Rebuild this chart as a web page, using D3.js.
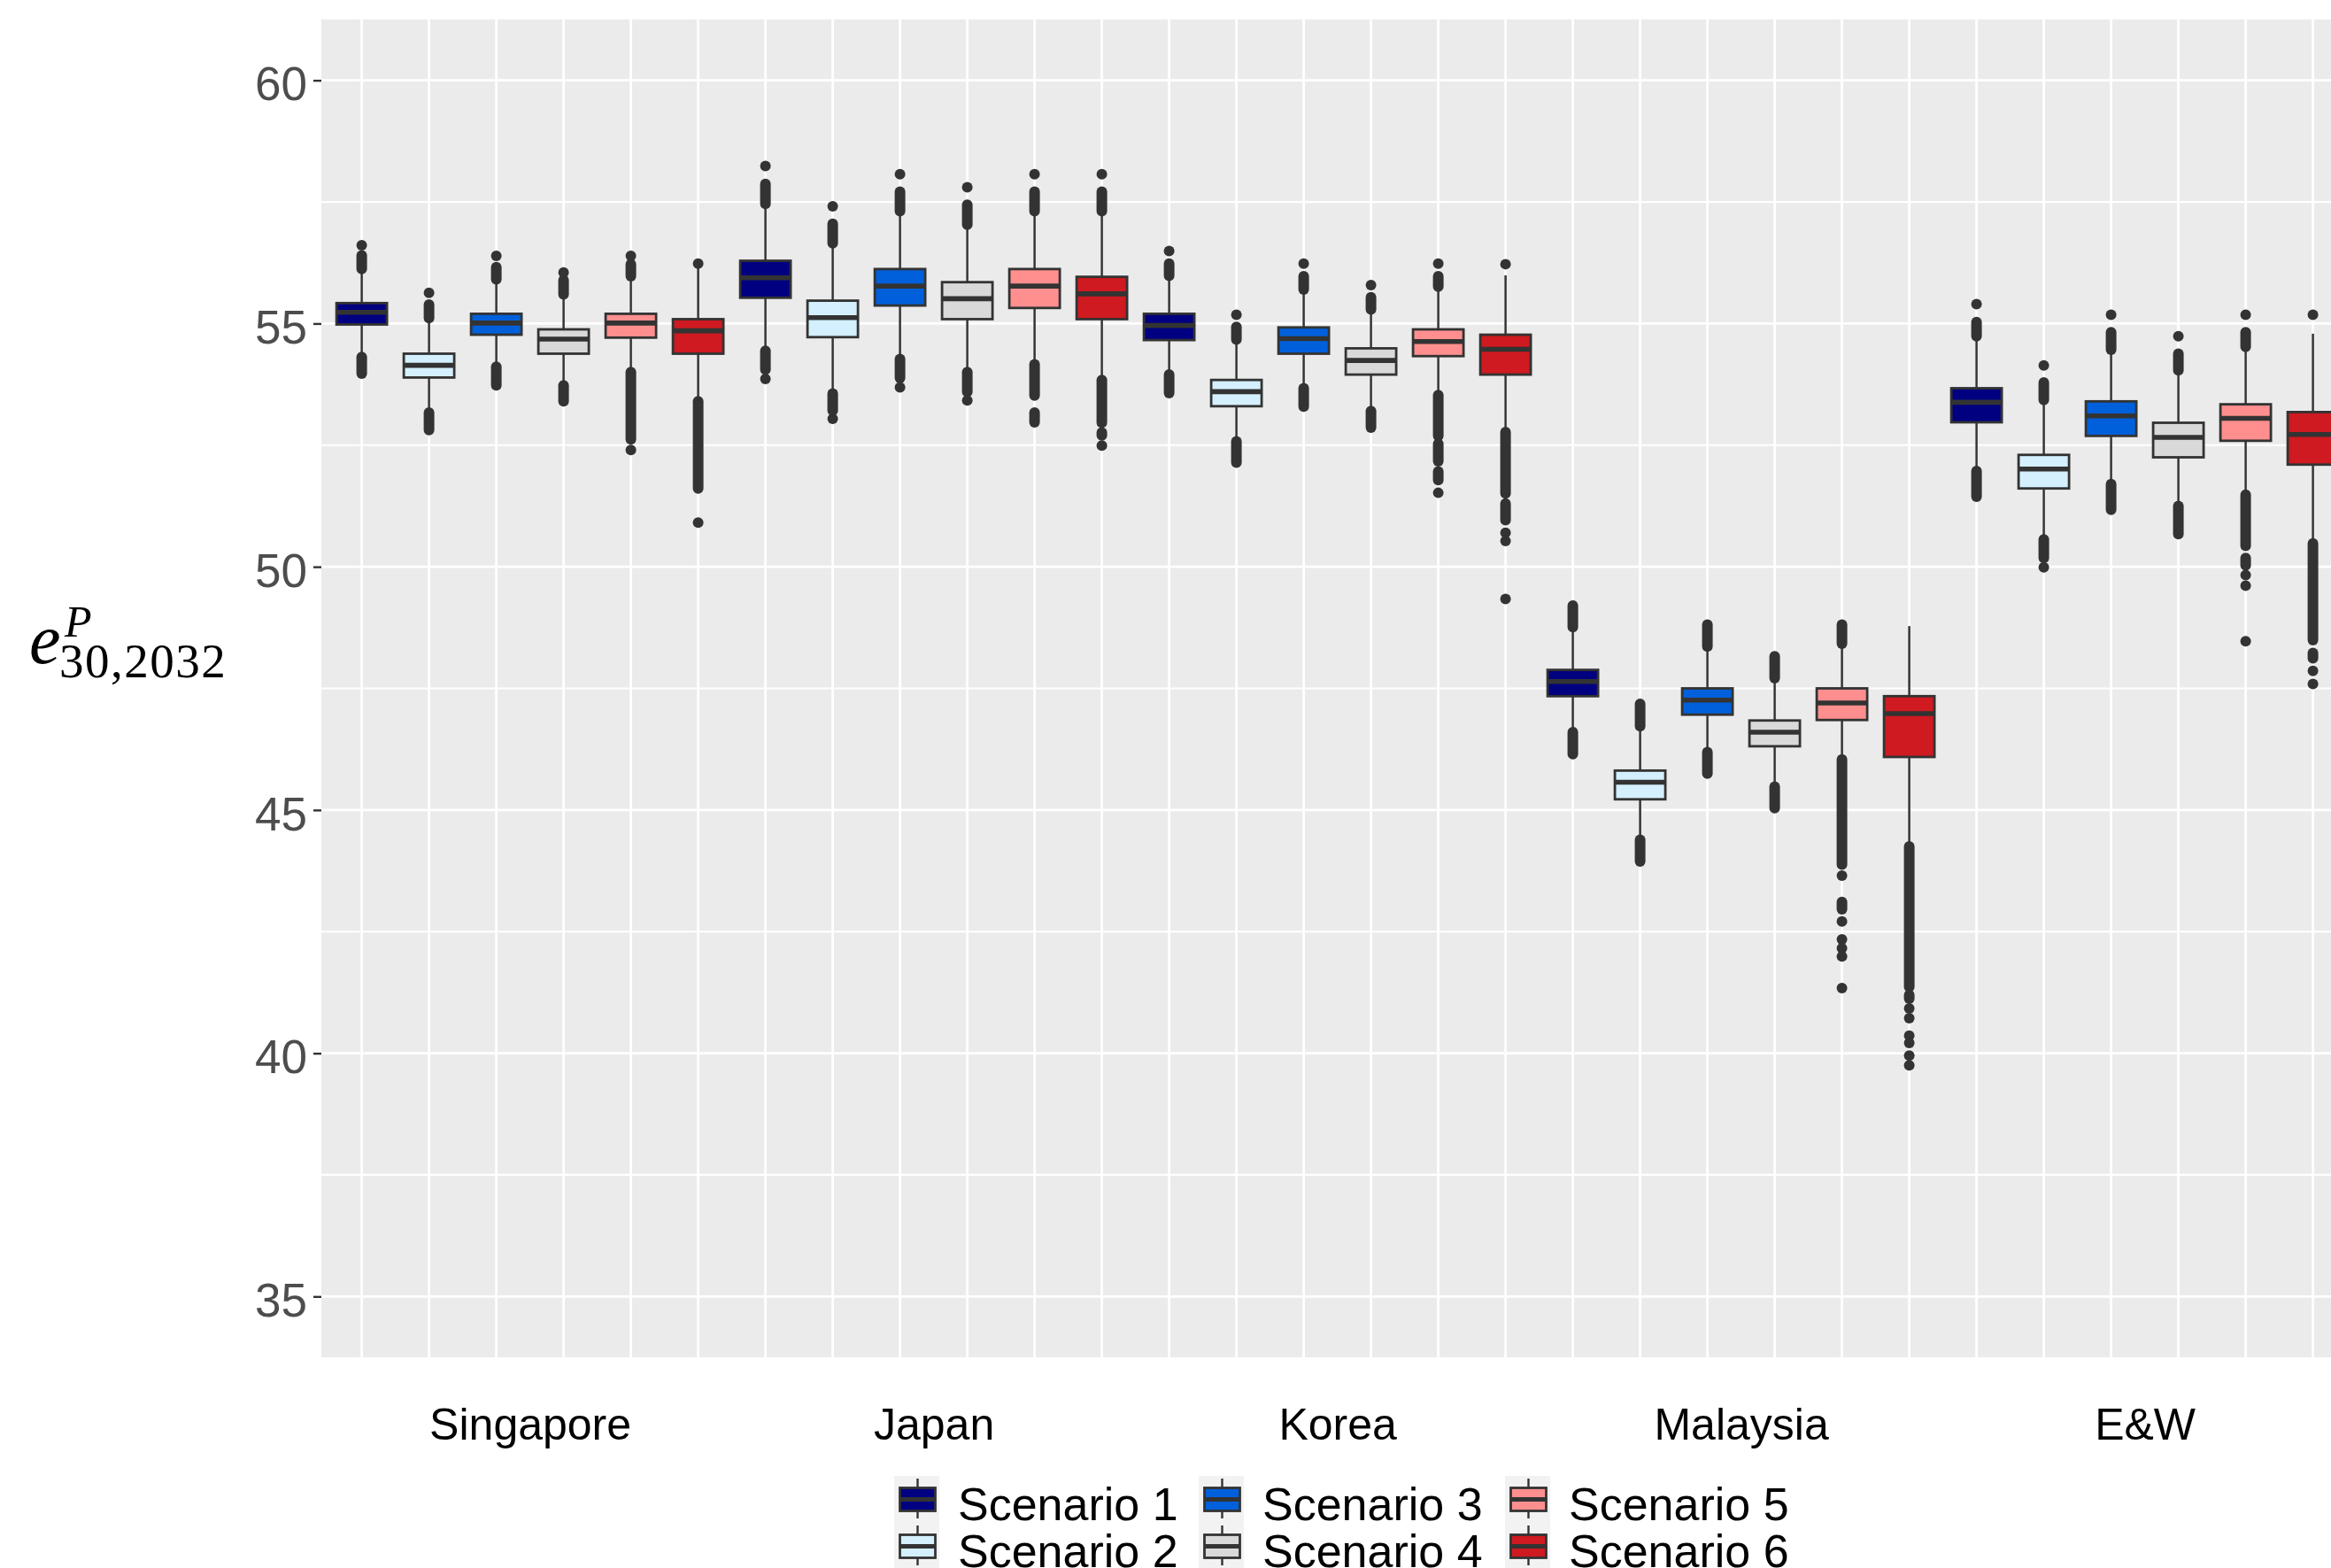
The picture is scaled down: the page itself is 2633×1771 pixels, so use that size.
<!DOCTYPE html>
<html>
<head>
<meta charset="utf-8">
<script src="https://cdn.jsdelivr.net/npm/d3@7"></script>
<style>
html, body { margin: 0; padding: 0; background: #ffffff; overflow: hidden; }
svg { display: block; }
</style>
</head>
<body>
<svg id="chart" width="2633" height="1771"></svg>
<script>
// ---------------- data ----------------
const countries = ["Singapore", "Japan", "Korea", "Malaysia", "E&W"];
const scenarios = ["Scenario 1", "Scenario 2", "Scenario 3", "Scenario 4", "Scenario 5", "Scenario 6"];
const scenarioColors = ["#000080", "#D4F0FF", "#0060DB", "#D9D9D9", "#FF8F8F", "#CE1A20"];
const yTicks = [35, 40, 45, 50, 55, 60];
const yMinorTicks = [37.5, 42.5, 47.5, 52.5, 57.5];

// one entry per box: country-major, scenario-minor
const whiskerLow = [54.35, 53.20, 54.16, 53.76, 54.05, 53.44,
                    54.49, 53.61, 54.32, 54.05, 54.20, 53.88,
                    53.99, 52.62, 53.72, 53.25, 53.58, 52.82,
                    46.65, 44.44, 46.24, 45.53, 46.09, 44.30,
                    52.00, 50.59, 51.73, 51.29, 51.52, 50.52];
const q1 =         [54.98, 53.89, 54.77, 54.38, 54.71, 54.38,
                    55.53, 54.72, 55.37, 55.09, 55.32, 55.09,
                    54.66, 53.30, 54.38, 53.95, 54.33, 53.95,
                    47.34, 45.22, 46.96, 46.31, 46.85, 46.09,
                    52.97, 51.61, 52.69, 52.25, 52.59, 52.10];
const median =     [55.23, 54.14, 55.01, 54.68, 55.01, 54.85,
                    55.94, 55.12, 55.77, 55.51, 55.77, 55.61,
                    54.96, 53.60, 54.69, 54.24, 54.63, 54.47,
                    47.64, 45.57, 47.26, 46.60, 47.20, 46.98,
                    53.38, 52.01, 53.10, 52.66, 53.05, 52.72];
const q3 =         [55.42, 54.38, 55.20, 54.88, 55.20, 55.09,
                    56.29, 55.47, 56.12, 55.85, 56.12, 55.96,
                    55.20, 53.84, 54.92, 54.49, 54.88, 54.77,
                    47.88, 45.81, 47.50, 46.84, 47.50, 47.34,
                    53.67, 52.30, 53.40, 52.96, 53.34, 53.18];
const whiskerHigh = [56.07, 55.05, 55.84, 55.54, 55.90, 56.15,
                     57.42, 56.60, 57.26, 56.99, 57.26, 57.26,
                     55.93, 54.63, 55.66, 55.25, 55.72, 55.99,
                     48.71, 46.69, 48.32, 47.67, 48.38, 48.78,
                     54.69, 53.40, 54.41, 53.99, 54.48, 54.79];

// dense runs of overlapping outliers, as [low, high]
const outlierRuns = [
  [[53.97, 54.31], [56.12, 56.40]],
  [[52.81, 53.17], [55.11, 55.39]],
  [[53.73, 54.11], [55.91, 56.16]],
  [[53.40, 53.73], [55.60, 55.89]],
  [[52.62, 54.00], [55.97, 56.22]],
  [[51.61, 53.40]],
  [[54.05, 54.44], [57.46, 57.87]],
  [[53.21, 53.56], [56.65, 57.05]],
  [[53.88, 54.27], [57.31, 57.71]],
  [[53.59, 54.00], [57.03, 57.44]],
  [[52.97, 53.17], [53.52, 54.16], [57.31, 57.71]],
  [[52.96, 53.84], [52.70, 52.76], [57.31, 57.71]],
  [[53.57, 53.95], [55.98, 56.23]],
  [[52.14, 52.58], [54.67, 54.93]],
  [[53.29, 53.67], [55.70, 55.97]],
  [[52.86, 53.20], [55.29, 55.54]],
  [[52.69, 53.53], [52.17, 52.53], [51.78, 51.96], [55.76, 55.97]],
  [[51.51, 52.77], [50.96, 51.30]],
  [[46.15, 46.60], [48.76, 49.20]],
  [[43.94, 44.39], [46.72, 47.18]],
  [[45.75, 46.19], [48.36, 48.81]],
  [[45.04, 45.48], [47.71, 48.16]],
  [[43.88, 46.04], [42.96, 43.11], [48.42, 48.81]],
  [[41.36, 44.25], [41.12, 41.20]],
  [[51.44, 51.97], [54.74, 55.03]],
  [[50.18, 50.56], [53.43, 53.79]],
  [[51.17, 51.70], [54.46, 54.82]],
  [[50.67, 51.25], [54.04, 54.38]],
  [[50.43, 51.48], [50.03, 50.18], [54.52, 54.82]],
  [[48.49, 50.48], [48.12, 48.23]]
];
// isolated outliers
const outlierPoints = [
  [56.61], [55.63], [56.39], [56.05], [52.40, 56.39], [50.91, 56.23],
  [53.86, 58.24], [53.04, 57.41], [53.69, 58.07], [53.42, 57.80], [58.07], [52.49, 58.07],
  [56.49], [55.18], [56.23], [55.79], [51.52, 56.23], [50.70, 50.53, 49.34, 56.22],
  [], [], [], [], [43.65, 42.71, 42.34, 42.16, 41.99, 41.34], [40.92, 40.72, 40.36, 40.21, 39.95, 39.75],
  [55.40], [49.99, 54.14], [55.18], [54.74], [49.83, 49.61, 48.47, 55.18], [47.86, 47.59, 55.18]
];

// ---------------- chart ----------------
const boxes = whiskerLow.map((wl, i) => ({
  pos: i + 1,
  country: countries[Math.floor(i / scenarios.length)],
  scen: i % scenarios.length,
  wl: wl, q1: q1[i], med: median[i], q3: q3[i], wh: whiskerHigh[i],
  runs: outlierRuns[i], pts: outlierPoints[i]
}));
const labelPos = countries.map((c, k) => k * scenarios.length + (scenarios.length + 1) / 2);

const panel = { left: 363, top: 22, bottom: 1533 };
const step = 76;
const nPos = boxes.length;
const x = d3.scaleLinear().domain([0.4, nPos + 0.6]).range([panel.left, panel.left + (nPos + 0.2) * step]);
const y = d3.scaleLinear().domain([33.75, 61.25]).range([panel.bottom, panel.top]);
const color = d3.scaleOrdinal().domain(d3.range(scenarios.length)).range(scenarioColors);

const svg = d3.select("#chart");
const ink = "#333333";
const sans = "'Liberation Sans', Arial, sans-serif";

// panel background
svg.append("rect")
  .attr("x", x.range()[0]).attr("y", panel.top)
  .attr("width", x.range()[1] - x.range()[0]).attr("height", panel.bottom - panel.top)
  .attr("fill", "#EBEBEB");

// grid
const grid = svg.append("g");
grid.selectAll("line.minor").data(yMinorTicks).join("line")
  .attr("x1", x.range()[0]).attr("x2", x.range()[1])
  .attr("y1", d => y(d)).attr("y2", d => y(d))
  .attr("stroke", "#ffffff").attr("stroke-width", 2.2);
grid.selectAll("line.major").data(yTicks).join("line")
  .attr("x1", x.range()[0]).attr("x2", x.range()[1])
  .attr("y1", d => y(d)).attr("y2", d => y(d))
  .attr("stroke", "#ffffff").attr("stroke-width", 2.8);
grid.selectAll("line.vert").data(boxes).join("line")
  .attr("x1", d => x(d.pos)).attr("x2", d => x(d.pos))
  .attr("y1", panel.top).attr("y2", panel.bottom)
  .attr("stroke", "#ffffff").attr("stroke-width", 2.8);

// boxes
const boxW = 0.75 * step;
const g = svg.append("g").selectAll("g.box").data(boxes).join("g");

// outliers
g.each(function (d) {
  const sel = d3.select(this);
  sel.selectAll("line.run").data(d.runs).join("line")
    .attr("x1", x(d.pos)).attr("x2", x(d.pos))
    .attr("y1", r => y(r[0])).attr("y2", r => y(r[1]))
    .attr("stroke", ink).attr("stroke-width", 12).attr("stroke-linecap", "round");
  sel.selectAll("circle").data(d.pts).join("circle")
    .attr("cx", x(d.pos)).attr("cy", p => y(p)).attr("r", 6)
    .attr("fill", ink);
});
// whiskers
g.append("line")
  .attr("x1", d => x(d.pos)).attr("x2", d => x(d.pos))
  .attr("y1", d => y(d.q3)).attr("y2", d => y(d.wh))
  .attr("stroke", ink).attr("stroke-width", 2.5);
g.append("line")
  .attr("x1", d => x(d.pos)).attr("x2", d => x(d.pos))
  .attr("y1", d => y(d.q1)).attr("y2", d => y(d.wl))
  .attr("stroke", ink).attr("stroke-width", 2.5);
// box
g.append("rect")
  .attr("x", d => x(d.pos) - boxW / 2).attr("width", boxW)
  .attr("y", d => y(d.q3)).attr("height", d => y(d.q1) - y(d.q3))
  .attr("fill", d => color(d.scen))
  .attr("stroke", ink).attr("stroke-width", 2.8);
// median
g.append("line")
  .attr("x1", d => x(d.pos) - boxW / 2).attr("x2", d => x(d.pos) + boxW / 2)
  .attr("y1", d => y(d.med)).attr("y2", d => y(d.med))
  .attr("stroke", ink).attr("stroke-width", 5.6);

// y axis
const yAxis = svg.append("g")
  .attr("transform", `translate(${panel.left},0)`)
  .call(d3.axisLeft(y).tickValues(yTicks).tickSize(9).tickPadding(7).tickFormat(d3.format("d")));
yAxis.select(".domain").remove();
yAxis.selectAll(".tick line").attr("stroke", ink).attr("stroke-width", 2.4);
yAxis.selectAll(".tick text")
  .attr("fill", "#4D4D4D").attr("font-family", sans).attr("font-size", 53).attr("dy", "0.42em");

// x axis (country labels)
const xAxis = svg.append("g")
  .attr("transform", `translate(0,${panel.bottom})`)
  .call(d3.axisBottom(x).tickValues(labelPos).tickSize(0).tickPadding(57)
    .tickFormat((d, i) => countries[i]));
xAxis.select(".domain").remove();
xAxis.selectAll(".tick text")
  .attr("fill", "#000000").attr("font-family", sans).attr("font-size", 50);

// y axis title: e^P_{30,2032} as one text element
const serif = "'Liberation Serif', 'Times New Roman', serif";
const yt = svg.append("text").attr("fill", "#000").attr("font-family", serif);
yt.append("tspan").attr("x", 33).attr("y", 749).attr("font-style", "italic").attr("font-size", 80).text("e");
yt.append("tspan").attr("x", 73).attr("y", 719).attr("font-style", "italic").attr("font-size", 50).text("P");
yt.append("tspan").attr("x", 67).attr("y", 765).attr("font-size", 55).attr("letter-spacing", 1.5).text("30,2032");

// legend
const legendCols = [1010, 1354, 1700];
const legendRows = [1667, 1720];
const keyW = 51, keyH = 53;
const leg = svg.append("g").selectAll("g").data(scenarios).join("g")
  .attr("transform", (d, i) => `translate(${legendCols[Math.floor(i / 2)]},${legendRows[i % 2]})`);
leg.append("rect").attr("width", keyW).attr("height", keyH).attr("fill", "#F2F2F2");
leg.append("line").attr("x1", keyW / 2 + 1).attr("x2", keyW / 2 + 1).attr("y1", 3).attr("y2", keyH - 5)
  .attr("stroke", ink).attr("stroke-width", 2.4);
leg.append("rect").attr("x", keyW / 2 + 1 - 20).attr("width", 40).attr("y", keyH / 2 - 13).attr("height", 26)
  .attr("fill", (d, i) => color(i)).attr("stroke", ink).attr("stroke-width", 2.8);
leg.append("line").attr("x1", keyW / 2 + 1 - 20).attr("x2", keyW / 2 + 1 + 20)
  .attr("y1", keyH / 2).attr("y2", keyH / 2).attr("stroke", ink).attr("stroke-width", 5);
leg.append("text").attr("x", 72).attr("y", keyH / 2 + 23.5).text(d => d)
  .attr("font-family", sans).attr("font-size", 52).attr("fill", "#000");
</script>
</body>
</html>
